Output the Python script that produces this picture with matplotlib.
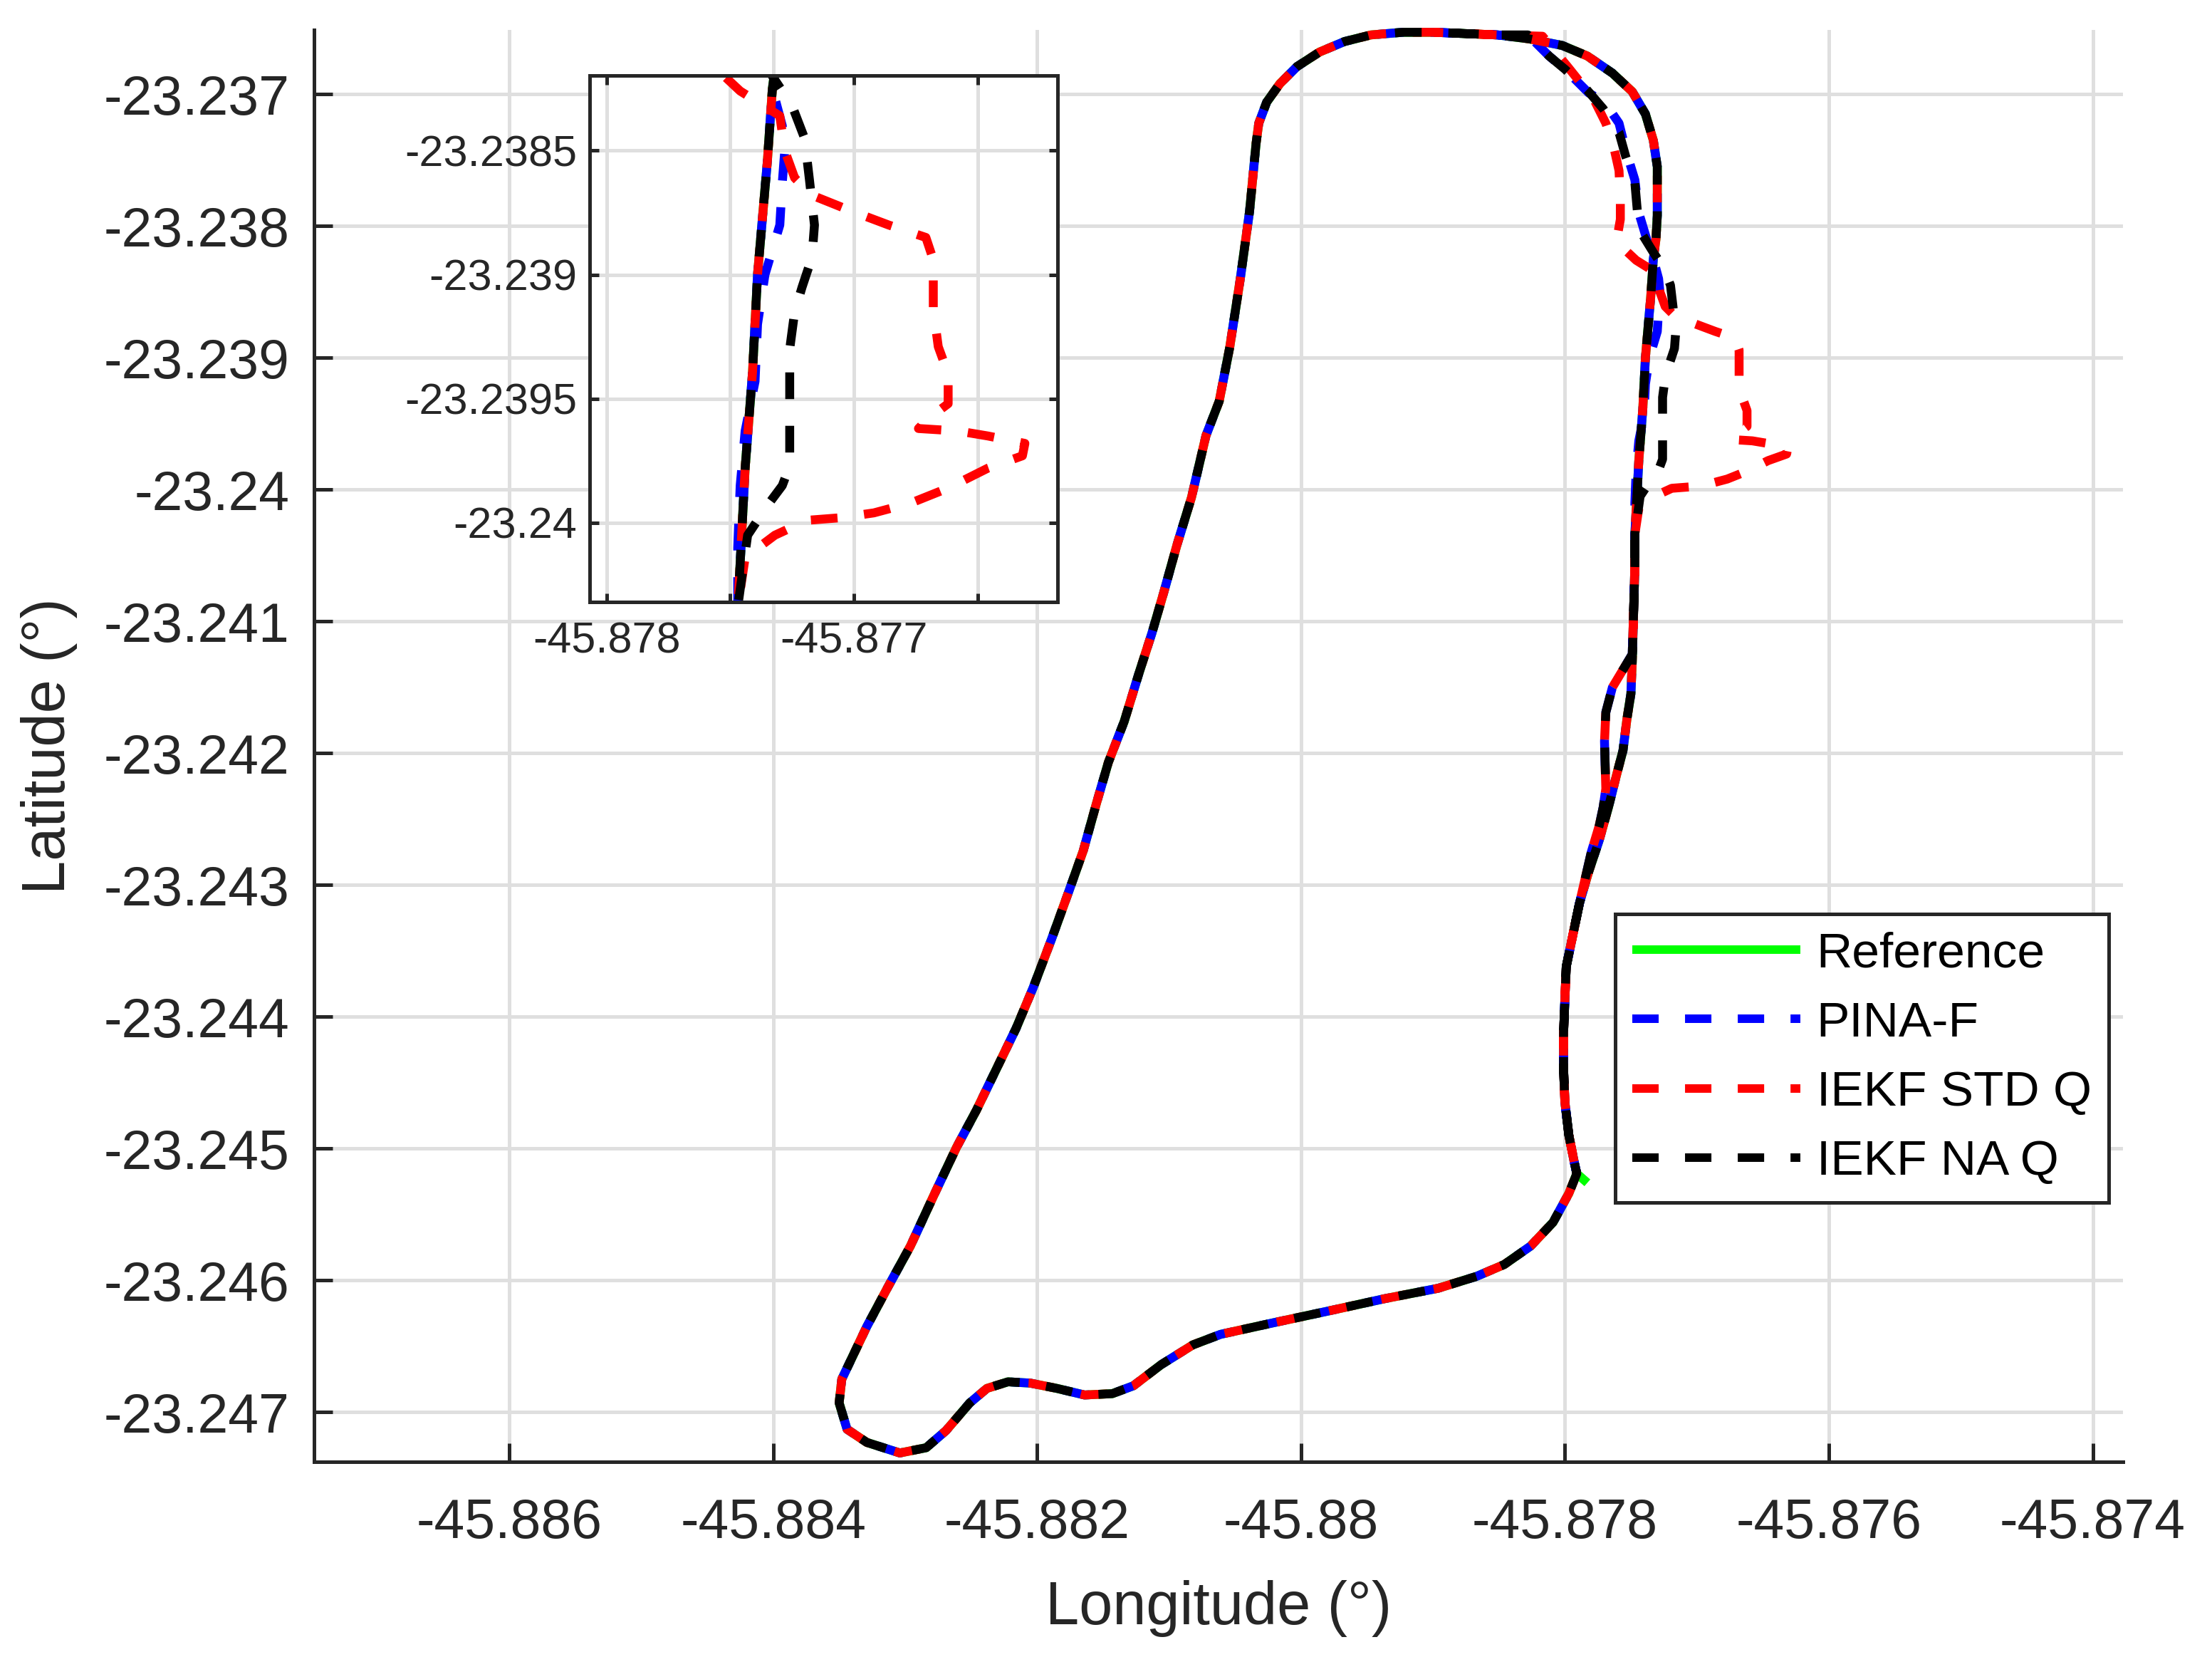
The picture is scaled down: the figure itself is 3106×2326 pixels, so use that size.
import matplotlib
matplotlib.use("Agg")
import matplotlib.pyplot as plt
import numpy as np
from matplotlib.lines import Line2D
from matplotlib.ticker import FixedLocator, FuncFormatter

plt.rcParams['font.family'] = ['Liberation Sans', 'DejaVu Sans']

# reference lap, clockwise, starting at the start/end spike (bottom right)
ref_lon = [-45.87783, -45.87791, -45.87797, -45.87809, -45.87826, -45.87846, -45.87867, -45.87896,
           -45.87937, -45.87978, -45.88020, -45.88061, -45.88082, -45.88106, -45.88127, -45.88143,
           -45.88164, -45.88185, -45.88205, -45.88222, -45.88238, -45.88251, -45.88269, -45.88284,
           -45.88304, -45.88329, -45.88344, -45.88350,
           -45.88348, -45.88329, -45.88313, -45.88296, -45.88278, -45.88261, -45.88246, -45.88231,
           -45.88216, -45.88203, -45.88189, -45.88176, -45.88165, -45.88155, -45.88146, -45.88134,
           -45.88123, -45.88113, -45.88104, -45.88094, -45.88083, -45.88072, -45.88062, -45.88054,
           -45.88046, -45.88039, -45.88034,
           -45.88032, -45.88026, -45.88016, -45.88003, -45.87986, -45.87967, -45.87947, -45.87923,
           -45.87899, -45.87875, -45.87851, -45.87827, -45.87802, -45.87783, -45.87764, -45.87749,
           -45.87739, -45.87733, -45.87730, -45.87730, -45.87730,
           -45.87731, -45.87733, -45.87735, -45.87737, -45.87739, -45.87741, -45.87744, -45.87746,
           -45.87747, -45.87747, -45.87748, -45.87749, -45.87750, -45.87753, -45.87756, -45.87761,
           -45.87767, -45.87774, -45.87782, -45.87789, -45.87794, -45.87799, -45.87800, -45.87801,
           -45.87801, -45.87800, -45.87797, -45.87793, -45.87791]
ref_lat = [-23.24526, -23.24519, -23.24534, -23.24556, -23.24574, -23.24588, -23.24597, -23.24606,
           -23.24614, -23.24623, -23.24632, -23.24641, -23.24649, -23.24664, -23.24680, -23.24686,
           -23.24687, -23.24682, -23.24678, -23.24677, -23.24682, -23.24693, -23.24714, -23.24727,
           -23.24731, -23.24723, -23.24713, -23.24693,
           -23.24675, -23.24635, -23.24605, -23.24574, -23.24535, -23.24499, -23.24471, -23.24440,
           -23.24409, -23.24378, -23.24341, -23.24305, -23.24274, -23.24238, -23.24207, -23.24176,
           -23.24140, -23.24109, -23.24078, -23.24042, -23.24006, -23.23959, -23.23933, -23.23892,
           -23.23840, -23.23789, -23.23737,
           -23.23722, -23.23706, -23.23692, -23.23679, -23.23668, -23.23660, -23.23655, -23.23653,
           -23.23653, -23.23654, -23.23655, -23.23658, -23.23663, -23.23671, -23.23684, -23.23698,
           -23.23715, -23.23735, -23.23755, -23.23776, -23.23792,
           -23.23810, -23.23825, -23.23854, -23.23877, -23.23900, -23.23939, -23.23978, -23.24016,
           -23.24034, -23.24058, -23.24095, -23.24131, -23.24155, -23.24174, -23.24198, -23.24217,
           -23.24241, -23.24266, -23.24290, -23.24314, -23.24338, -23.24362, -23.24386, -23.24412,
           -23.24440, -23.24465, -23.24490, -23.24510, -23.24519]

# second pass of the estimates through the top-right corner and the right side
pina_lon2 = [-45.87899, -45.87851, -45.87826, -45.87812, -45.87798, -45.87782, -45.87770, -45.87759,
             -45.87754, -45.87747, -45.87744, -45.87738, -45.87733, -45.87729, -45.87728, -45.87729,
             -45.87730, -45.87736, -45.87739, -45.87740, -45.87744, -45.87746, -45.87747, -45.87747]
pina_lat2 = [-23.23653, -23.23655, -23.23657, -23.23671, -23.23683, -23.23699, -23.23706, -23.23722,
             -23.23742, -23.23765, -23.23790, -23.23810, -23.23825, -23.23840, -23.23850, -23.23863,
             -23.23880, -23.23900, -23.23920, -23.23943, -23.23963, -23.23985, -23.24010, -23.24034]

std_lon2 = [-45.87899, -45.87851, -45.87817, -45.87798, -45.87778, -45.87769, -45.87763, -45.87759,
            -45.87758, -45.87758, -45.87761, -45.87746, -45.87730, -45.87728, -45.87724, -45.87717,
            -45.87702, -45.87686, -45.87671, -45.87668, -45.87668, -45.87666, -45.87662, -45.87662,
            -45.87670, -45.87674, -45.87658, -45.87646, -45.87631, -45.87632, -45.87646, -45.87662,
            -45.87677, -45.87692, -45.87706, -45.87719, -45.87732, -45.87744, -45.87747]
std_lat2 = [-23.23653, -23.23655, -23.23656, -23.23679, -23.23704, -23.23722, -23.23740, -23.23758,
            -23.23780, -23.23795, -23.23812, -23.23826, -23.23836, -23.23850, -23.23861, -23.23868,
            -23.23874, -23.23880, -23.23885, -23.23894, -23.23914, -23.23929, -23.23940, -23.23952,
            -23.23958, -23.23962, -23.23963, -23.23965, -23.23968, -23.23973, -23.23978, -23.23986,
            -23.23992, -23.23996, -23.23998, -23.23999, -23.24005, -23.24014, -23.24034]

na_lon2 = [-45.87899, -45.87851, -45.87828, -45.87812, -45.87800, -45.87783, -45.87771, -45.87759,
           -45.87754, -45.87747, -45.87745, -45.87741, -45.87733, -45.87725, -45.87720, -45.87718,
           -45.87716, -45.87717, -45.87721, -45.87724, -45.87726, -45.87726, -45.87726, -45.87729,
           -45.87735, -45.87743, -45.87747]
na_lat2 = [-23.23653, -23.23655, -23.23655, -23.23671, -23.23681, -23.23697, -23.23711, -23.23729,
           -23.23747, -23.23767, -23.23790, -23.23807, -23.23820, -23.23832, -23.23845, -23.23862,
           -23.23880, -23.23893, -23.23905, -23.23915, -23.23930, -23.23956, -23.23977, -23.23985,
           -23.23993, -23.24005, -23.24034]

# common tail of the second pass (small side track near -23.242)
tail_lon = [-45.87747, -45.87748, -45.87749, -45.87755, -45.87764, -45.87769, -45.87770, -45.87769,
            -45.87771, -45.87774, -45.87780, -45.87789, -45.87794, -45.87799, -45.87800, -45.87801,
            -45.87801, -45.87800, -45.87797, -45.87793, -45.87791]
tail_lat = [-23.24058, -23.24095, -23.24125, -23.24135, -23.24150, -23.24169, -23.24191, -23.24227,
            -23.24241, -23.24255, -23.24275, -23.24314, -23.24338, -23.24362, -23.24386, -23.24412,
            -23.24440, -23.24465, -23.24490, -23.24510, -23.24519]

xticks_main = [-45.886, -45.884, -45.882, -45.880, -45.878, -45.876, -45.874]
yticks_main = [-23.237, -23.238, -23.239, -23.240, -23.241, -23.242, -23.243, -23.244, -23.245,
               -23.246, -23.247]
xticks_inset = [-45.878, -45.8775, -45.877, -45.8765]
xlabels_inset = ['-45.878', '', '-45.877', '']
yticks_inset = [-23.2385, -23.239, -23.2395, -23.24]

labels = ['Reference', 'PINA-F', 'IEKF STD Q', 'IEKF NA Q']
colors = ['#00ff00', '#0000ff', '#ff0000', '#000000']


def estimate_track(lon2, lat2):
    # one lap starting at the top, then the second pass and its tail
    lon = np.array(ref_lon)
    lat = np.array(ref_lat)
    k = int(np.argmin((lon - lon2[0]) ** 2 + (lat - lat2[0]) ** 2))
    x = np.concatenate([lon[k:], lon[1:k + 1], lon2, tail_lon])
    y = np.concatenate([lat[k:], lat[1:k + 1], lat2, tail_lat])
    return x, y


tracks = [(np.array(ref_lon), np.array(ref_lat)),
          estimate_track(pina_lon2, pina_lat2),
          estimate_track(std_lon2, std_lat2),
          estimate_track(na_lon2, na_lat2)]

LW = 4.5
DASH = (3.0, 3.0)
offsets = [None, 0.0, 2.0, 4.0]
TXT = '#262626'
GRID = '#dfdfdf'


def style_of(i):
    if offsets[i] is None:
        return '-'
    return (offsets[i], DASH)


def fmt(v, pos):
    return '{:g}'.format(round(v, 5))


fig = plt.figure(figsize=(15.53, 11.63), dpi=200)
W, H = 3106.0, 2326.0

ax = fig.add_axes([441 / W, 1 - 2052 / H, 2540 / W, 2010 / H])
for i, (x, y) in enumerate(tracks):
    ax.plot(x, y, color=colors[i], lw=LW, linestyle=style_of(i), clip_on=False,
            solid_capstyle='butt', dash_capstyle='butt')
ax.set_xlim(-45.887479, -45.873771)
ax.set_ylim(-23.247377, -23.236512)
ax.xaxis.set_major_locator(FixedLocator(xticks_main))
ax.yaxis.set_major_locator(FixedLocator(yticks_main))
ax.xaxis.set_major_formatter(FuncFormatter(fmt))
ax.yaxis.set_major_formatter(FuncFormatter(fmt))
ax.grid(True, color=GRID, lw=1.8)
ax.set_axisbelow(True)
for s in ['top', 'right']:
    ax.spines[s].set_visible(False)
for s in ['left', 'bottom']:
    ax.spines[s].set_linewidth(1.8)
    ax.spines[s].set_color(TXT)
ax.tick_params(direction='in', length=9.5, width=1.8, colors=TXT, labelsize=27.7)
ax.tick_params(axis='x', pad=18)
ax.tick_params(axis='y', pad=12.5)

ax.set_xlabel('Longitude (°)', fontsize=30.5, color=TXT)
ax.xaxis.set_label_coords(0.5, -0.1025)
ax.xaxis.label.set_va('center')
ax.set_ylabel('Latitude (°)', fontsize=30.5, color=TXT)
ax.yaxis.set_label_coords(-0.1465, 0.5)
ax.yaxis.label.set_va('center')

handles = []
for i in range(4):
    ls = '-' if offsets[i] is None else (0, (3.1, 3.1))
    handles.append(Line2D([0], [0], color=colors[i], lw=4.3, linestyle=ls,
                          solid_capstyle='butt', dash_capstyle='butt'))
leg = ax.legend(handles, labels, loc='upper left', bbox_to_anchor=(0.7193, 0.3826),
                fontsize=25, frameon=True, fancybox=False, edgecolor=TXT, framealpha=1,
                borderpad=0.35, handlelength=3.39, handletextpad=0.33, labelspacing=0.48,
                borderaxespad=0)
leg.get_frame().set_linewidth(1.8)
for t in leg.get_texts():
    t.set_color('black')

# zoomed inset
axi = fig.add_axes([828 / W, 1 - 845 / H, (1485 - 828) / W, (845 - 105.5) / H])
axi.set_facecolor('white')
for i, (x, y) in enumerate(tracks):
    axi.plot(x, y, color=colors[i], lw=LW, linestyle=style_of(i),
             solid_capstyle='butt', dash_capstyle='butt')
axi.set_xlim(-45.878068, -45.876178)
axi.set_ylim(-23.240319, -23.238196)
axi.xaxis.set_major_locator(FixedLocator(xticks_inset))
axi.set_xticklabels(xlabels_inset)
axi.yaxis.set_major_locator(FixedLocator(yticks_inset))
axi.yaxis.set_major_formatter(FuncFormatter(fmt))
axi.grid(True, color=GRID, lw=1.8)
axi.set_axisbelow(True)
for s in axi.spines.values():
    s.set_linewidth(1.8)
    s.set_color(TXT)
axi.tick_params(direction='in', length=4.5, width=1.8, colors=TXT, labelsize=22,
                top=True, right=True)
axi.tick_params(axis='x', pad=10)
axi.tick_params(axis='y', pad=6.5)

fig.savefig('out.png', dpi=200, facecolor='white')
